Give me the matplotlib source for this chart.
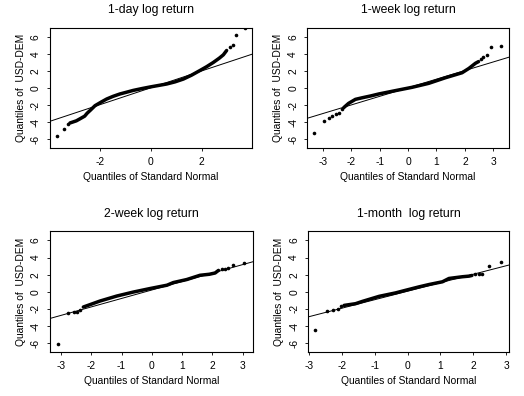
import matplotlib
matplotlib.use("Agg")
import matplotlib.pyplot as plt

plt.rcParams['font.family'] = ['Liberation Sans', 'DejaVu Sans']
plt.rcParams['axes.unicode_minus'] = False

# Normal QQ plots of USD-DEM log returns
titles = ["1-day log return", "1-week log return", "2-week log return", "1-month  log return"]

# 1-day: dense body and isolated tail points
day_body_x = [-3.20, -2.95, -2.81, -2.62, -2.52, -2.40, -2.21, -1.95, -1.75, -1.50, -1.23, -0.95, -0.70, -0.35,
              -0.04, 0.30, 0.62, 0.95, 1.28, 1.60, 1.94, 2.20, 2.46, 2.70, 2.86, 2.99]
day_body_y = [-4.10, -3.85, -3.62, -3.30, -2.95, -2.62, -2.07, -1.62, -1.29, -0.98, -0.70, -0.48, -0.28, -0.06,
              0.12, 0.30, 0.47, 0.72, 1.05, 1.50, 2.06, 2.50, 2.99, 3.50, 3.89, 4.40]
day_tail_x = [-3.70, -3.42, -3.26, 3.11, 3.24, 3.38, 3.70]
day_tail_y = [-5.57, -4.80, -4.20, 4.77, 5.06, 6.23, 7.02]
day_line = (0.03, 0.985)

# 1-week
week_body_x = [-2.26, -2.09, -1.85, -1.62, -1.30, -1.03, -0.45, 0.14, 0.73, 1.31, 1.90, 2.14, 2.37, 2.48]
week_body_y = [-2.30, -1.80, -1.33, -1.15, -0.92, -0.70, -0.31, 0.08, 0.55, 1.20, 1.79, 2.30, 2.90, 3.10]
week_tail_x = [-3.29, -2.97, -2.79, -2.68, -2.54, -2.42, -2.32, 2.57, 2.65, 2.77, 2.91, 3.26]
week_tail_y = [-5.30, -3.83, -3.50, -3.30, -3.10, -2.90, -2.50, 3.40, 3.65, 3.90, 4.80, 4.93]
week_line = (0.03, 1.01)

# 2-week
two_body_x = [-2.26, -2.00, -1.71, -1.16, -0.61, -0.06, 0.50, 0.71, 1.15, 1.59, 1.90, 2.09, 2.20]
two_body_y = [-1.78, -1.45, -1.08, -0.50, -0.03, 0.38, 0.77, 1.08, 1.43, 1.93, 2.05, 2.20, 2.50]
two_tail_x = [-3.11, -2.75, -2.56, -2.46, -2.37, 2.30, 2.40, 2.50, 2.68, 3.04]
two_tail_y = [-6.10, -2.51, -2.36, -2.32, -2.16, 2.65, 2.68, 2.75, 3.19, 3.42]
two_line = (0.21, 0.99)

# 1-month
month_body_x = [-1.94, -1.59, -1.38, -0.87, -0.37, -0.06, 0.35, 0.65, 1.06, 1.26, 1.67, 1.87, 1.96]
month_body_y = [-1.59, -1.39, -1.12, -0.53, -0.13, 0.18, 0.58, 0.85, 1.17, 1.56, 1.76, 1.83, 1.91]
month_tail_x = [-2.84, -2.47, -2.27, -2.14, -2.02, 2.06, 2.17, 2.27, 2.48, 2.84]
month_tail_y = [-4.46, -2.26, -2.10, -1.98, -1.67, 2.03, 2.05, 2.12, 2.98, 3.43]
month_line = (0.07, 0.99)

y_ticks = [-6, -4, -2, 0, 2, 4, 6]
x_ticks = [[-2, 0, 2], [-3, -2, -1, 0, 1, 2, 3], [-3, -2, -1, 0, 1, 2, 3], [-3, -2, -1, 0, 1, 2, 3]]
x_limits = [(-3.99, 3.98), (-3.54, 3.55), (-3.36, 3.33), (-3.03, 3.10)]
y_limits = (-7.0, 7.07)

panels = [
    (day_body_x, day_body_y, day_tail_x, day_tail_y, day_line),
    (week_body_x, week_body_y, week_tail_x, week_tail_y, week_line),
    (two_body_x, two_body_y, two_tail_x, two_tail_y, two_line),
    (month_body_x, month_body_y, month_tail_x, month_tail_y, month_line),
]

# axes boxes in figure fractions [left, bottom, width, height]
boxes = [
    [0.0954, 0.627, 0.3849, 0.303],
    [0.5865, 0.627, 0.3849, 0.303],
    [0.0954, 0.1119, 0.3869, 0.304],
    [0.5884, 0.1119, 0.3836, 0.304],
]

fig = plt.figure(figsize=(5.24, 3.96), dpi=100)

for i in range(4):
    bx, by, tx, ty, (b0, b1) = panels[i]
    ax = fig.add_axes(boxes[i])
    ax.plot(bx, by, color="black", lw=2.5, solid_capstyle="round", solid_joinstyle="round")
    ax.plot(tx, ty, "o", color="black", markersize=2.6, markeredgewidth=0)
    ax.axline((0, b0), slope=b1, color="black", lw=0.7)
    ax.set_xlim(*x_limits[i])
    ax.set_ylim(*y_limits)
    ax.set_xticks(x_ticks[i])
    ax.set_yticks(y_ticks)
    ax.set_yticklabels([str(v) for v in y_ticks], rotation=90, va="center")
    ax.tick_params(direction="out", length=2.0, width=0.6, labelsize=7.4, pad=4.5)
    for s in ax.spines.values():
        s.set_linewidth(0.8)
    ax.set_title(titles[i], fontsize=8.8, pad=10.5)
    ax.set_xlabel("Quantiles of Standard Normal", fontsize=7.4, labelpad=4)
    ax.set_ylabel("Quantiles of  USD-DEM", fontsize=7.4, labelpad=3.5)

fig.savefig("out.png", dpi=100)
